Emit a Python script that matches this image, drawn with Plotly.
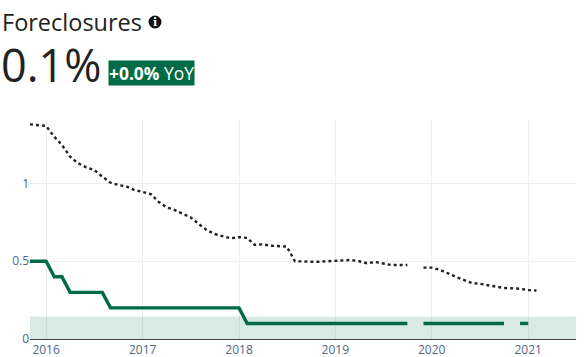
import plotly.graph_objects as go

dates = ["2015-11","2015-12"] + [f"{y}-{m:02d}" for y in range(2016,2021) for m in range(1,13)] + ["2021-01","2021-02"]
dates = [d + "-01" for d in dates]

green = [0.5,0.5,0.5,0.4,0.4,0.3,0.3,0.3,0.3,0.3,0.2,0.2,0.2,0.2,
         0.2,0.2,0.2,0.2,0.2,0.2,0.2,0.2,0.2,0.2,0.2,0.2,
         0.2,0.1,0.1,0.1,0.1,0.1,0.1,0.1,0.1,0.1,0.1,0.1,
         0.1,0.1,0.1,0.1,0.1,0.1,0.1,0.1,0.1,0.1,None,0.1,
         0.1,0.1,0.1,0.1,0.1,0.1,0.1,0.1,0.1,0.1,None,0.1,
         0.1,None]

black = [1.38,1.374,1.37,1.30,1.248,1.172,1.13,1.104,1.087,1.044,1.005,0.99,0.98,0.958,
         0.943,0.932,0.883,0.847,0.83,0.808,0.783,0.74,0.70,0.675,0.66,0.647,
         0.655,0.65,0.605,0.609,0.60,0.597,0.594,0.50,0.497,0.497,0.497,0.50,
         0.504,0.508,0.508,0.50,0.487,0.495,0.485,0.476,0.476,0.476,None,0.459,
         0.459,0.445,0.422,0.40,0.38,0.36,0.355,0.347,0.337,0.328,0.326,0.323,
         0.315,0.312]

band_x = ["2015-11-01","2021-07-01"]
band_top = 0.145
year_ticks = ["2016-01-01","2017-01-01","2018-01-01","2019-01-01","2020-01-01","2021-01-01"]
year_labels = ["2016","2017","2018","2019","2020","2021"]
y_ticks = [0,0.5,1]
y_labels = ["0","0.5","1"]

W, H = 587, 357
L, R, T, B = 30, 11, 120, 18
PW, PH = W - L - R, H - T - B
def px(x): return (x - L) / PW
def py(y): return 1 - (y - T) / PH

fig = go.Figure()
fig.add_trace(go.Scatter(x=band_x, y=[band_top,band_top], mode="lines", fill="tozeroy",
                         fillcolor="rgba(0,107,68,0.15)", line=dict(width=0), hoverinfo="skip"))
fig.add_trace(go.Scatter(x=dates, y=black, mode="lines", line=dict(color="#222222", width=2.4, dash="3px,3px"), connectgaps=False))
fig.add_trace(go.Scatter(x=dates, y=green, mode="lines", line=dict(color="#006b44", width=3.4), connectgaps=False))

fig.update_layout(
    width=W, height=H, showlegend=False,
    margin=dict(l=L, r=R, t=T, b=B),
    paper_bgcolor="white", plot_bgcolor="white",
    font=dict(family="Open Sans", color="#506784", size=12),
    xaxis=dict(type="date", range=["2015-11-01","2021-07-01"], tickvals=year_ticks, ticktext=year_labels, automargin=False,
               gridcolor="#eeeeee", showline=True, linecolor="#444444", linewidth=1, zeroline=False, ticks=""),
    yaxis=dict(range=[0,1.408], tickvals=y_ticks, ticktext=y_labels, automargin=False,
               gridcolor="#eeeeee", zeroline=False, ticks=""),
    shapes=[dict(type="circle", xref="paper", yref="paper", x0=px(148.5), x1=px(161.5), y0=py(28.5), y1=py(15.5),
                 fillcolor="#111111", line=dict(width=0))],
    annotations=[
        dict(text="Foreclosures", xref="paper", yref="paper", x=px(0), y=py(22), xanchor="left", yanchor="middle",
             showarrow=False, font=dict(family="Open Sans", size=23.5, color="#222222", weight=500)),
        dict(text="<b>i</b>", xref="paper", yref="paper", x=px(155), y=py(22), xanchor="center", yanchor="middle",
             showarrow=False, font=dict(family="DejaVu Serif", size=11, color="white")),
        dict(text="0.1%", xref="paper", yref="paper", x=px(-1), y=py(64), xanchor="left", yanchor="middle",
             showarrow=False, font=dict(family="Open Sans", size=45, color="#222222", weight=500)),
        dict(text="<b>+0.0%</b> YoY", xref="paper", yref="paper", x=px(108), y=py(73), xanchor="left", yanchor="middle",
             showarrow=False, bgcolor="#006b44", font=dict(family="Open Sans", size=17.4, color="white"), borderpad=0),
    ],
)
fig.write_html("out.html", config=dict(displayModeBar=False),
               post_script="document.body.style.margin='0';document.documentElement.style.overflow='hidden';")
